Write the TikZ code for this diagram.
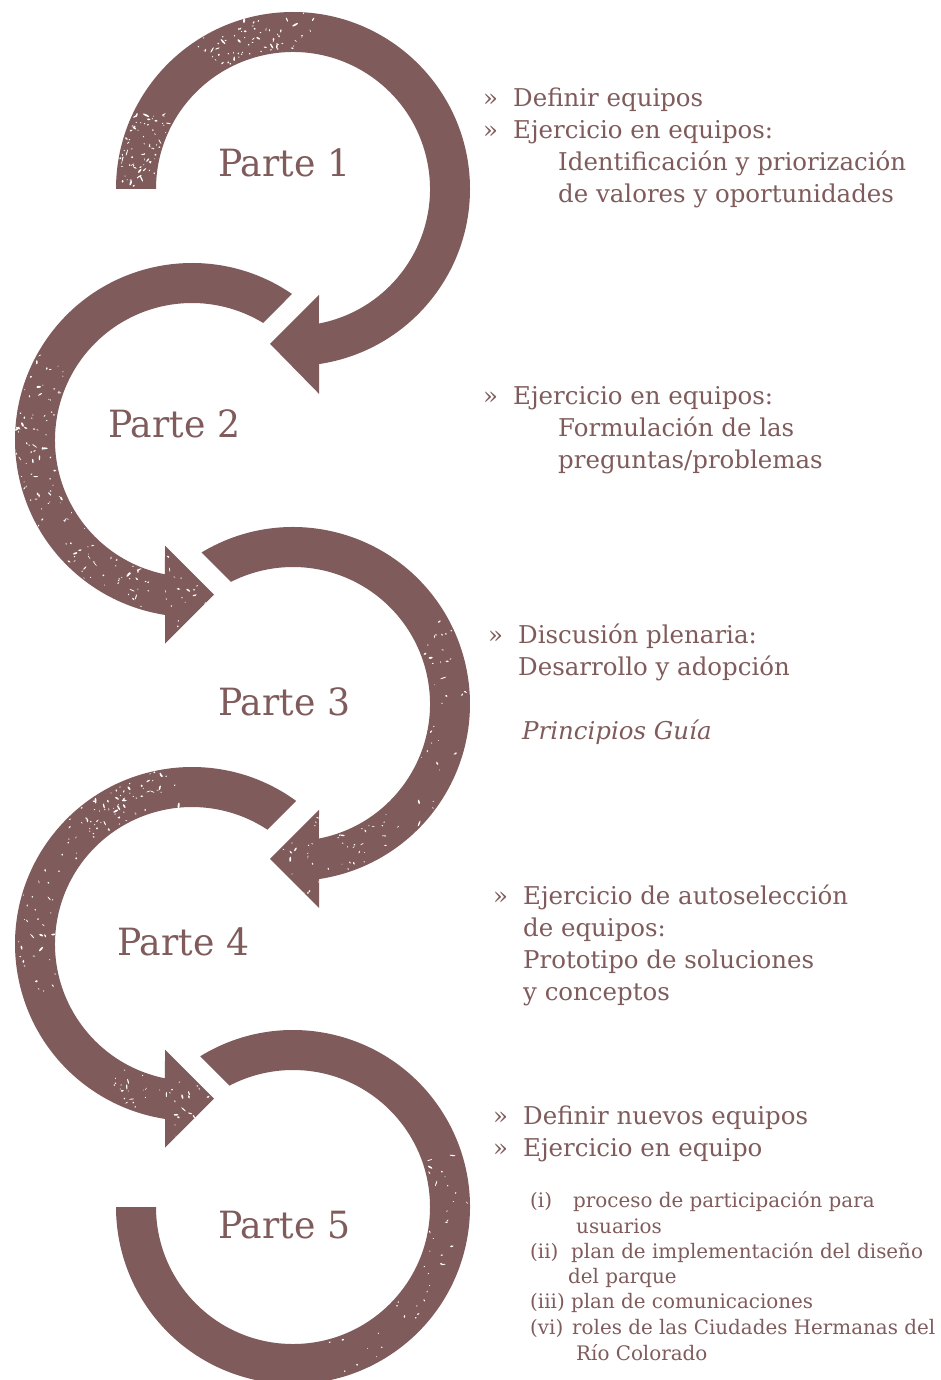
\documentclass[tikz,border=0pt]{standalone}
\usepackage{fontspec}
\setmainfont{DejaVu Serif}
\usepackage{graphicx}
\usetikzlibrary{calc}
\definecolor{mauve}{RGB}{127,91,91}
\newsavebox\measbox
\newlength\measlen
\newcommand\calcfactor[3]{\sbox\measbox{#3}\setlength\measlen{\wd\measbox}\pgfmathsetmacro#1{#2/\measlen}\global\let#1#1}
\newcommand\mainsize{\fontsize{24.5}{28}\selectfont}
\newcommand\smallsize{\fontsize{20}{23}\selectfont}
\newcommand\partsize{\fontsize{37.5}{44}\selectfont}
\AtBeginDocument{%
\calcfactor{\fmain}{260}{\mainsize Ejercicio en equipos:}%
\calcfactor{\fsmall}{363}{\smallsize roles de las Ciudades Hermanas del}%
\calcfactor{\fpart}{132}{\partsize Parte 1}}
\newcommand\tm[1]{\scalebox{\fmain}[1]{#1}}
\newcommand\tsm[1]{\scalebox{\fsmall}[1]{#1}}
\newcommand\tp[1]{\scalebox{\fpart}[1]{#1}}
\newcommand\grunge[6]{%
  \foreach \k in {1,...,#4}{%
    \pgfmathsetmacro\ga{#2+rnd*(#3-#2)}%
    \pgfmathsetmacro\gr{#5+rnd*(#6-#5)}%
    \pgfmathsetmacro\gl{0.5+3*rnd*rnd}%
    \pgfmathsetmacro\gw{0.35+0.7*rnd}%
    \pgfmathsetmacro\gt{rnd*180}%
    \path ($(#1)+(\ga:\gr pt)$) coordinate (gp);
    \fill[white,shift={(gp)},rotate=\gt] (0,0) ellipse[x radius=\gl pt, y radius=\gw pt];
  }%
}
\newcommand\grungebox[5]{%
  \foreach \k in {1,...,#5}{%
    \pgfmathsetmacro\gx{#1+rnd*(#2-#1)}%
    \pgfmathsetmacro\gy{#3+rnd*(#4-#3)}%
    \pgfmathsetmacro\gl{0.5+3*rnd*rnd}%
    \pgfmathsetmacro\gw{0.35+0.7*rnd}%
    \pgfmathsetmacro\gt{rnd*180}%
    \fill[white,shift={(\gx,\gy)},rotate=\gt] (0,0) ellipse[x radius=\gl pt, y radius=\gw pt];
  }%
}
\begin{document}
\begin{tikzpicture}[x=1pt,y=1pt,
  ring/.style={fill=mauve,draw=none},
  mt/.style={anchor=base west,inner sep=0pt,text=mauve,font=\mainsize},
  st/.style={anchor=base west,inner sep=0pt,text=mauve,font=\smallsize},
  pt/.style={anchor=base west,inner sep=0pt,text=mauve,font=\partsize}]
\useasboundingbox (0,0) rectangle (940,-1380);
\clip (0,0) rectangle (940,-1380);
\pgfmathsetseed{4217}

\coordinate (C1) at (293,-189);
\coordinate (C2) at (192,-440);
\coordinate (C3) at (293,-704);
\coordinate (C4) at (192,-944);
\coordinate (C5) at (293,-1207);

% ring 1
\fill[ring] ($(C1)+(180:177pt)$) arc[start angle=180,end angle=-81.55,radius=177pt]
  -- (319,-393.8) -- (270,-343.8) -- (319,-294.8)
  -- ($(C1)+(-79.07:137pt)$) arc[start angle=-79.07,end angle=180,radius=137pt] -- cycle;
% ring 2
\fill[ring] ($(C2)+(55.6:177pt)$) arc[start angle=55.6,end angle=261.23,radius=177pt]
  -- (165,-643.7) -- (214,-594.7) -- (165,-545.7)
  -- ($(C2)+(258.63:137pt)$) arc[start angle=258.63,end angle=58.7,radius=137pt] -- cycle;
% ring 3
\fill[ring] ($(C3)+(121.13:177pt)$) arc[start angle=121.13,end angle=-81.55,radius=177pt]
  -- (319,-907.8) -- (270,-858.8) -- (319,-809.8)
  -- ($(C3)+(-79.07:137pt)$) arc[start angle=-79.07,end angle=116.95,radius=137pt] -- cycle;
% ring 4
\fill[ring] ($(C4)+(53.96:177pt)$) arc[start angle=53.96,end angle=261.23,radius=177pt]
  -- (165,-1147.7) -- (214,-1098.7) -- (165,-1049.7)
  -- ($(C4)+(258.63:137pt)$) arc[start angle=258.63,end angle=56.6,radius=137pt] -- cycle;
% ring 5
\fill[ring] ($(C5)+(121.6:177pt)$) arc[start angle=121.6,end angle=-180,radius=177pt]
  -- ($(C5)+(-180:137pt)$) arc[start angle=-180,end angle=117.58,radius=137pt] -- cycle;

% worn texture
\grunge{C1}{82}{125}{70}{140}{176}
\grunge{C1}{150}{180}{80}{139}{176}
\grunge{C2}{150}{255}{120}{139}{176}
\grunge{C3}{-80}{30}{60}{139}{176}
\grunge{C4}{95}{135}{70}{139}{176}
\grunge{C4}{135}{200}{40}{139}{176}
\grunge{C4}{240}{258}{20}{139}{176}
\grunge{C5}{-75}{20}{40}{139}{176}
\begin{scope}
  \clip (165,-643.7) -- (214,-594.7) -- (165,-545.7) -- cycle;
  \grungebox{165}{214}{-644}{-546}{35}
\end{scope}
\begin{scope}
  \clip (319,-907.8) -- (270,-858.8) -- (319,-809.8) -- cycle;
  \grungebox{270}{319}{-908}{-810}{30}
\end{scope}
\begin{scope}
  \clip (165,-1147.7) -- (214,-1098.7) -- (165,-1049.7) -- cycle;
  \grungebox{165}{214}{-1148}{-1050}{35}
\end{scope}

% part labels
\node[pt] (p1) at (218,-177) {\tp{Parte 1}};
\node[pt] (p2) at (108,-437) {\tp{Parte 2}};
\node[pt] (p3) at (218,-715) {\tp{Parte 3}};
\node[pt] (p4) at (117,-955) {\tp{Parte 4}};
\node[pt] (p5) at (218,-1238) {\tp{Parte 5}};

% block 1
\node[mt] (b1a) at (483,-107) {\tm{»}};
\node[mt] (t1a) at (513,-107) {\tm{Definir equipos}};
\node[mt] (b1b) at (483,-139) {\tm{»}};
\node[mt] (t1b) at (513,-139) {\tm{Ejercicio en equipos:}};
\node[mt] (t1c) at (558,-171) {\tm{Identificación y priorización}};
\node[mt] (t1d) at (558,-203) {\tm{de valores y oportunidades}};
% block 2
\node[mt] (b2a) at (483,-404) {\tm{»}};
\node[mt] (t2a) at (513,-404) {\tm{Ejercicio en equipos:}};
\node[mt] (t2b) at (558,-436) {\tm{Formulación de las}};
\node[mt] (t2c) at (558,-468) {\tm{preguntas/problemas}};
% block 3
\node[mt] (b3a) at (488,-643) {\tm{»}};
\node[mt] (t3a) at (518,-643) {\tm{Discusión plenaria:}};
\node[mt] (t3b) at (518,-675) {\tm{Desarrollo y adopción}};
\node[mt] (t3c) at (522,-739) {\tm{\itshape Principios Guía}};
% block 4
\node[mt] (b4a) at (493,-904) {\tm{»}};
\node[mt] (t4a) at (523,-904) {\tm{Ejercicio de autoselección}};
\node[mt] (t4b) at (523,-936) {\tm{de equipos:}};
\node[mt] (t4c) at (523,-968) {\tm{Prototipo de soluciones}};
\node[mt] (t4d) at (523,-1000) {\tm{y conceptos}};
% block 5
\node[mt] (b5a) at (493,-1124) {\tm{»}};
\node[mt] (t5a) at (523,-1124) {\tm{Definir nuevos equipos}};
\node[mt] (b5b) at (493,-1156) {\tm{»}};
\node[mt] (t5b) at (523,-1156) {\tm{Ejercicio en equipo}};
% list
\node[st] (l1) at (530,-1207) {\tsm{(i)}};
\node[st] (l1t) at (573,-1207) {\tsm{proceso de participación para}};
\node[st] (l1u) at (576,-1233) {\tsm{usuarios}};
\node[st] (l2) at (530,-1258) {\tsm{(ii)}};
\node[st] (l2t) at (571,-1258) {\tsm{plan de implementación del diseño}};
\node[st] (l2u) at (568,-1283) {\tsm{del parque}};
\node[st] (l3) at (530,-1308) {\tsm{(iii) plan de comunicaciones}};
\node[st] (l4) at (530,-1334) {\tsm{(vi)}};
\node[st] (l4t) at (572,-1334) {\tsm{roles de las Ciudades Hermanas del}};
\node[st] (l4u) at (576,-1360) {\tsm{Río Colorado}};
\end{tikzpicture}
\end{document}
